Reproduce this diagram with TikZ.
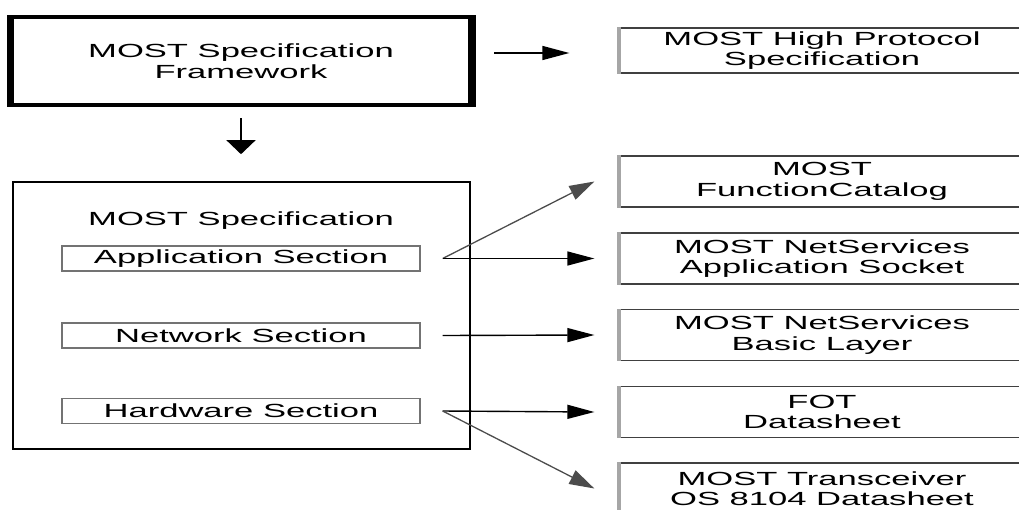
\documentclass[tikz,border=0pt]{standalone}
\usepackage{fontspec}
\setmainfont{Liberation Sans}[FakeStretch=1.82]
\usetikzlibrary{arrows.meta}

\tikzset{
  fwbox/.style={draw, line width=4pt, minimum width=458pt, minimum height=88pt, align=center},
  specbox/.style={draw, line width=1.6pt, minimum width=457pt, minimum height=267pt},
  secbox/.style={draw=black!55, line width=1.4pt, minimum width=358pt, minimum height=25pt, inner sep=0pt},
  docbox/.style={draw=black!75, line width=1.3pt, minimum width=404pt, minimum height=51pt, align=center, inner sep=0pt},
  harrow/.style={-{Triangle[length=27pt,width=14pt]}, line width=1.4pt},
  varrow/.style={-{Triangle[length=14pt,width=29pt]}, line width=1.4pt},
  darrow/.style={-{Triangle[length=25pt,width=15pt]}, line width=1.3pt, black!70}
}

\begin{document}
\begin{tikzpicture}[x=1pt, y=-1pt, font=\fontsize{19}{20.5}\selectfont]
\useasboundingbox (0,0) rectangle (1019,509);
\clip (0,0) rectangle (1019,509);

\node[fwbox] (fw) at (241,61) {MOST Specification\\Framework};
\draw[line width=7pt] (fw.north west) -- (fw.south west);
\draw[line width=7pt] (fw.north east) -- (fw.south east);

\node[specbox] (ms) at (241.5,315.5) {};
\node (mstitle) at (241,221) {MOST Specification};
\node[secbox] (app) at (241,258.5) {Application Section};
\node[secbox] (net) at (241,335.5) {Network Section};
\node[secbox] (hw) at (241,411) {Hardware Section};

\node[docbox, minimum height=45pt] (hp) at (822,50.5) {MOST High Protocol\\Specification};
\node[docbox] (fc) at (822,181.5) {MOST\\FunctionCatalog};
\node[docbox] (as) at (822,258.5) {MOST NetServices\\Application Socket};
\node[docbox] (bl) at (822,335) {MOST NetServices\\Basic Layer};
\node[docbox] (fot) at (822,412) {FOT\\Datasheet};
\node[docbox] (trx) at (822,488.5) {MOST Transceiver\\OS 8104 Datasheet};
\foreach \n in {hp,fc,as,bl,fot,trx}
  \draw[black!35, line width=4pt] (\n.north west) -- (\n.south west);

\coordinate (appout) at ([xshift=22pt]app.east);
\coordinate (netout) at ([xshift=22pt]net.east);
\coordinate (hwout) at ([xshift=22pt]hw.east);

\draw[harrow, shorten <=22pt, shorten >=50pt] ([yshift=-2.5pt]fw.east |- hp.west) -- ([yshift=-2.5pt]hp.west);
\draw[varrow, shorten <=11pt, shorten >=27pt] (fw.south) -- (fw.south |- ms.north);

\draw[darrow] (appout) -- ([xshift=-25pt]fc.west);
\draw[harrow] (appout) -- ([xshift=-25pt]as.west);
\draw[harrow] (netout) -- ([xshift=-25pt]bl.west);
\draw[harrow] (hwout) -- ([xshift=-25pt]fot.west);
\draw[darrow] (hwout) -- ([xshift=-25pt]trx.west);
\end{tikzpicture}
\end{document}
